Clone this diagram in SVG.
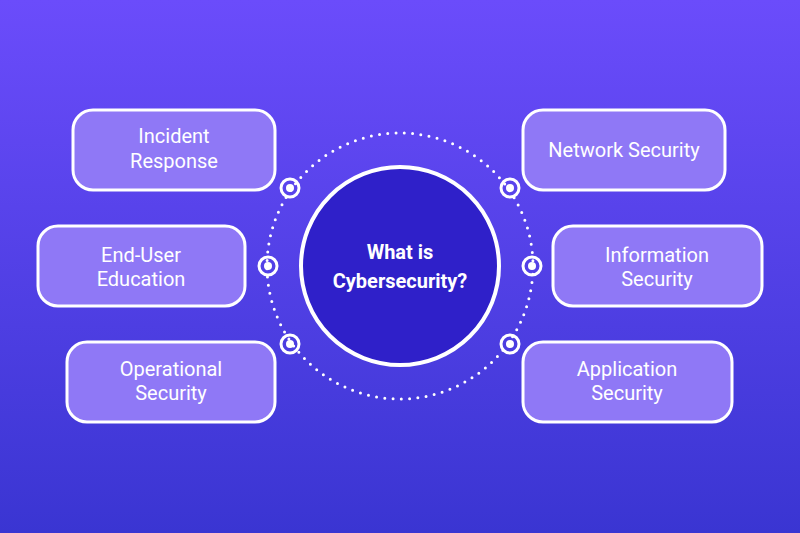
<svg xmlns="http://www.w3.org/2000/svg" width="800" height="533" viewBox="0 0 800 533">
<defs>
<linearGradient id="bg" x1="0" y1="0" x2="0" y2="1">
<stop offset="0" stop-color="#6b4cfb"/><stop offset="1" stop-color="#3a35d2"/>
</linearGradient>
</defs>
<style>
.box{fill:#8f78f6;stroke:#fff;stroke-width:3}
.t{font-family:Roboto,"Liberation Sans",sans-serif;font-size:20px;fill:#fff;text-anchor:middle}
.ring{fill:none;stroke:#fff;stroke-width:3}
.dot{fill:#fff}
</style>
<rect width="800" height="533" fill="url(#bg)"/>
<g id="connectors">
<circle cx="400" cy="266" r="133" fill="none" stroke="#fff" stroke-width="3" stroke-linecap="round" stroke-dasharray="0 8.3"/>
<g id="rings">
<circle class="ring" cx="290" cy="188" r="9"/><circle class="dot" cx="290" cy="188" r="4"/>
<circle class="ring" cx="268" cy="266" r="9"/><circle class="dot" cx="268" cy="266" r="4"/>
<circle class="ring" cx="290" cy="344" r="9"/><circle class="dot" cx="290" cy="344" r="4"/>
<circle class="ring" cx="510" cy="188" r="9"/><circle class="dot" cx="510" cy="188" r="4"/>
<circle class="ring" cx="532" cy="266" r="9"/><circle class="dot" cx="532" cy="266" r="4"/>
<circle class="ring" cx="510" cy="344" r="9"/><circle class="dot" cx="510" cy="344" r="4"/>
</g>
</g>
<g id="center">
<circle cx="400" cy="266" r="99" fill="#2f20c9" stroke="#fff" stroke-width="4"/>
<text class="t" x="400" y="259" font-weight="bold">What is</text>
<text class="t" x="400" y="288" font-weight="bold">Cybersecurity?</text>
</g>
<g id="incident"><rect class="box" x="73" y="110" width="202" height="80" rx="20"/>
<text class="t" x="174" y="143">Incident</text><text class="t" x="174" y="168">Response</text></g>
<g id="enduser"><rect class="box" x="38" y="226" width="207" height="80" rx="20"/>
<text class="t" x="141" y="262">End-User</text><text class="t" x="141" y="286">Education</text></g>
<g id="operational"><rect class="box" x="67" y="342" width="208" height="80" rx="20"/>
<text class="t" x="171" y="376">Operational</text><text class="t" x="171" y="400">Security</text></g>
<g id="network"><rect class="box" x="523" y="110" width="202" height="80" rx="20"/>
<text class="t" x="624" y="157">Network Security</text></g>
<g id="information"><rect class="box" x="553" y="226" width="209" height="80" rx="20"/>
<text class="t" x="657" y="262">Information</text><text class="t" x="657" y="286">Security</text></g>
<g id="application"><rect class="box" x="523" y="342" width="209" height="80" rx="20"/>
<text class="t" x="627" y="376">Application</text><text class="t" x="627" y="400">Security</text></g>
</svg>
